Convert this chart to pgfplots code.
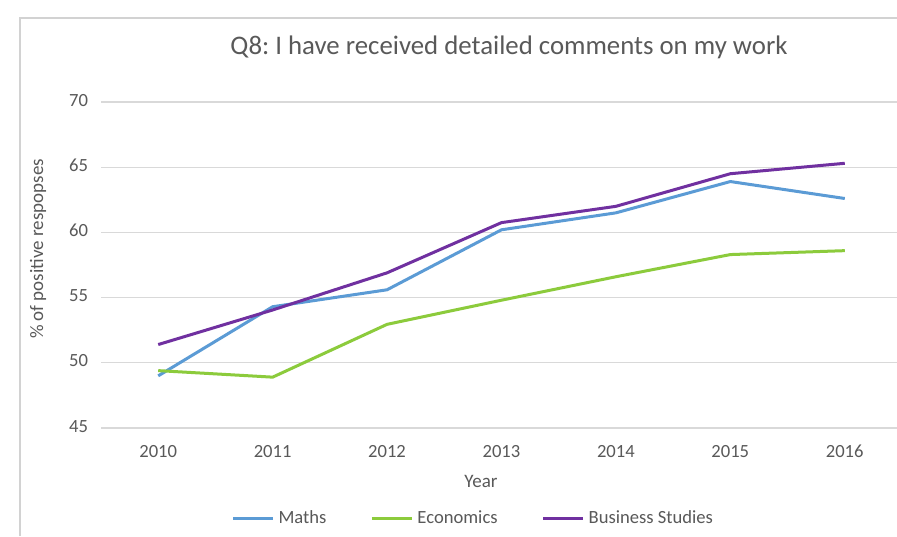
\documentclass[border=0pt]{standalone}
\usepackage{pgfplots}
\pgfplotsset{compat=1.18}
\usepackage{fontspec}
\setmainfont{Carlito}
\definecolor{mathsc}{HTML}{5B9BD5}
\definecolor{econc}{HTML}{8CCB3C}
\definecolor{busc}{HTML}{7030A0}
\definecolor{txt}{HTML}{595959}
\definecolor{gridc}{HTML}{D9D9D9}
\begin{document}
\begin{tikzpicture}
\useasboundingbox (0,0) rectangle (448.5pt,268pt);
\fill[white] (0,0) rectangle (448.5pt,268pt);
\draw[gray!35, line width=0.6pt] (10pt,0) -- (10pt,259pt) -- (460pt,259pt);
\foreach \yy in {0,32.6,65.2,97.8,130.4,163} {
  \draw[gridc, line width=0.6pt] (50.5pt,54pt+\yy pt) -- (460pt,54pt+\yy pt);
}
\begin{axis}[
  at={(50.5pt,54pt)}, anchor=south west,
  scale only axis, width=400.5pt, height=163pt,
  xmin=2009.5, xmax=2016.5, ymin=45, ymax=70,
  xtick={2010,...,2016}, ytick={45,50,...,70},
  /pgf/number format/assume math mode=true,
  xticklabel={\pgfmathprintnumber[1000 sep={}]{\tick}},
  typeset ticklabels with strut,
  axis line style={draw=none},
  major tick length=0pt,
  tick label style={font=\fontsize{9.3}{10}\selectfont, text=txt},
  yticklabel style={xshift=-3pt},
  xticklabel style={yshift=-5pt},
  legend style={at={(0.466,-0.279)}, anchor=center, legend columns=3, draw=none, fill=none,
    font=\fontsize{9.3}{10}\selectfont, text=txt,
    /tikz/every even column/.append style={column sep=20pt}},
  legend image code/.code={\draw[#1] (0pt,0pt) -- (20pt,0pt);},
  clip=false,
]
\addplot[mathsc, line width=1.5pt] coordinates {(2010,49.0) (2011,54.3) (2012,55.6) (2013,60.2) (2014,61.5) (2015,63.9) (2016,62.6)};
\addlegendentry{Maths}
\addplot[econc, line width=1.5pt] coordinates {(2010,49.4) (2011,48.9) (2012,52.95) (2013,54.8) (2014,56.6) (2015,58.3) (2016,58.6)};
\addlegendentry{Economics}
\addplot[busc, line width=1.5pt] coordinates {(2010,51.4) (2011,54.05) (2012,56.9) (2013,60.75) (2014,62.0) (2015,64.5) (2016,65.3)};
\addlegendentry{Business Studies}
\end{axis}
\node[text=txt, font=\fontsize{13.4}{15}\selectfont] at (254.5pt,244.5pt) {\frenchspacing Q8: I have received detailed comments on my work};
\node[text=txt, font=\fontsize{9.5}{11}\selectfont, rotate=90] at (19pt,143.5pt) {\% of positive respopses};
\node[text=txt, font=\fontsize{9.5}{11}\selectfont] at (240.5pt,27.5pt) {Year};
\end{tikzpicture}
\end{document}
